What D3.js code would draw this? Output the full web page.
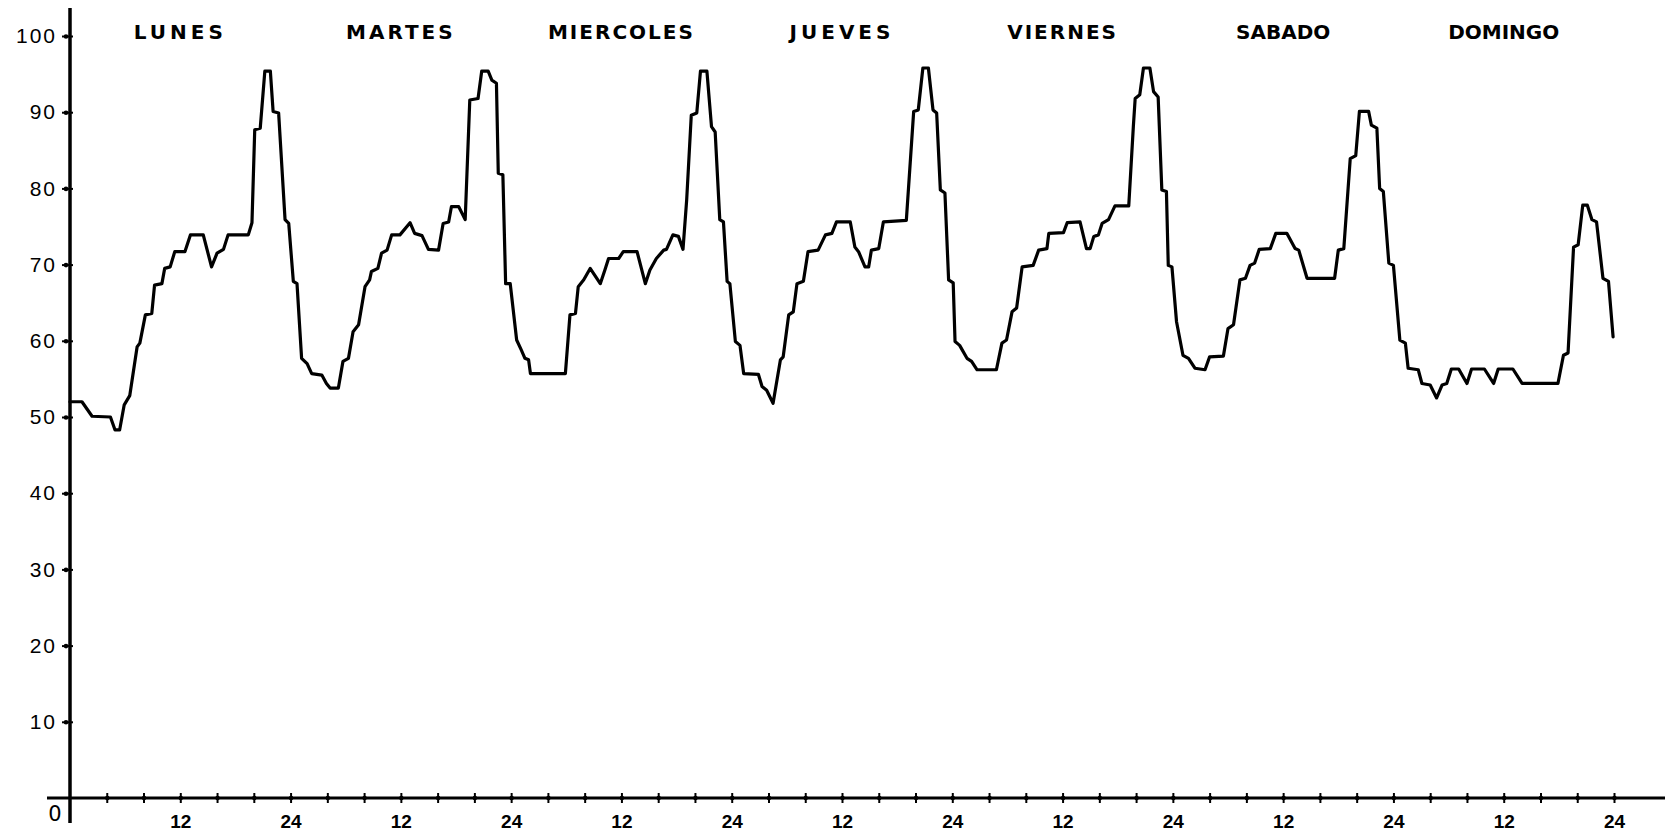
<!DOCTYPE html>
<html>
<head>
<meta charset="utf-8">
<script src="https://cdn.jsdelivr.net/npm/d3@7/dist/d3.min.js"></script>
<style>
  body { margin: 0; background: #fff; }
  text { fill: #000; }
</style>
</head>
<body>
<script>
// dias de la semana (etiquetas de arriba)
var dias = ["LUNES", "MARTES", "MIERCOLES", "JUEVES", "VIERNES", "SABADO", "DOMINGO"];

// hora de la semana (0-168) y valor
var horas = [
  0, 1.3, 2.4, 4.4, 4.9, 5.4, 5.9, 6.5, 7.3, 7.6, 8.2, 8.9, 9.2, 10.0, 10.3, 10.9, 11.4, 12.5, 13.1, 14.5,
  15.4, 16.0, 16.7, 17.2, 19.4, 19.8, 20.1, 20.7, 21.2, 21.8, 22.1, 22.7, 23.4, 23.8,
  24.3, 24.7, 25.2, 25.8, 26.3, 27.4, 27.9, 28.3, 29.2, 29.7, 30.3, 30.8, 31.4, 32.1, 32.6, 32.8, 33.5,
  33.9, 34.5, 35.0, 35.9, 37.0, 37.5, 38.3, 39.0, 40.1, 40.6, 41.2, 41.5, 42.3, 43.0, 43.5, 44.4, 44.8,
  45.5, 45.9, 46.4, 46.6, 47.1, 47.4, 47.9,
  48.6, 49.1, 49.5, 49.9, 50.1, 53.9, 54.4, 55.0, 55.3, 55.9, 56.6, 57.7, 58.2, 58.6, 59.7, 60.2, 61.7,
  62.6, 63.1, 63.8, 64.6, 64.9, 65.6, 66.2, 66.7, 67.1, 67.6, 68.2, 68.6, 69.3, 69.8, 70.2, 70.7, 71.1,
  71.5, 71.8,
  72.4, 72.9, 73.3, 74.9, 75.3, 75.8, 76.5, 77.3, 77.6, 78.2, 78.7, 79.1, 79.8, 80.3, 81.4, 82.2, 82.9,
  83.4, 84.9, 85.4, 85.8, 86.5, 86.9, 87.2, 88.0, 88.5, 91.0, 91.8, 92.3, 92.8, 93.4, 93.9, 94.3, 94.7,
  95.2, 95.6,
  96.1, 96.3, 96.8, 97.6, 98.1, 98.7, 100.8, 101.4, 101.9, 102.5, 103.0, 103.6, 104.8, 105.4, 106.3,
  106.5, 108.1, 108.5, 109.9, 110.6, 111.0, 111.4, 111.9, 112.3, 113.0, 113.7, 115.2, 115.7, 115.9,
  116.4, 116.8, 117.5, 117.9, 118.4, 118.8, 119.3, 119.5, 119.9,
  120.4, 121.1, 121.7, 122.4, 123.5, 124.0, 125.5, 126.0, 126.6, 127.3, 127.9, 128.4, 128.9, 129.4,
  130.6, 131.2, 132.4, 133.3, 133.7, 134.6, 137.6, 138.0, 138.6, 139.3, 139.9, 140.3, 141.3, 141.6,
  142.2, 142.5, 142.9, 143.5,
  144.0, 144.7, 145.3, 145.6, 146.7, 147.1, 148.0, 148.7, 149.3, 149.8, 150.3, 151.1, 152.0, 152.5,
  153.9, 154.9, 155.4, 157.0, 158.0, 161.9, 162.5, 163.0, 163.6, 164.1, 164.6, 165.1, 165.6, 166.1,
  166.8, 167.4, 167.9
];
var valores = [
  52.0, 52.0, 50.1, 50.0, 48.3, 48.3, 51.6, 52.8, 59.2, 59.7, 63.4, 63.6, 67.3, 67.5, 69.5, 69.7, 71.7, 71.7, 73.9, 73.9,
  69.7, 71.5, 72.0, 73.9, 73.9, 75.5, 87.7, 87.9, 95.4, 95.4, 90.1, 89.9, 75.9, 75.4,
  67.8, 67.5, 57.7, 57.0, 55.7, 55.5, 54.4, 53.8, 53.8, 57.3, 57.7, 61.2, 62.1, 67.1, 68.0, 69.1, 69.5,
  71.5, 71.9, 73.9, 73.9, 75.5, 74.1, 73.8, 72.0, 71.9, 75.4, 75.6, 77.6, 77.6, 75.9, 91.6, 91.8, 95.4,
  95.4, 94.2, 93.8, 82.0, 81.8, 67.5, 67.5,
  60.1, 58.8, 57.7, 57.5, 55.7, 55.7, 63.4, 63.6, 67.1, 68.0, 69.5, 67.5, 69.3, 70.8, 70.8, 71.7, 71.7,
  67.5, 69.3, 70.8, 71.9, 72.0, 73.9, 73.7, 72.0, 78.5, 89.6, 89.9, 95.4, 95.4, 88.1, 87.4, 75.9, 75.6,
  67.8, 67.5,
  59.9, 59.4, 55.7, 55.6, 54.0, 53.5, 51.8, 57.5, 57.9, 63.4, 63.8, 67.5, 67.8, 71.7, 71.9, 73.9, 74.1,
  75.6, 75.6, 72.3, 71.7, 69.7, 69.7, 71.9, 72.1, 75.6, 75.8, 90.1, 90.3, 95.8, 95.8, 90.3, 89.9, 79.8,
  79.4, 68.0,
  67.6, 59.9, 59.4, 57.7, 57.3, 56.2, 56.2, 59.7, 60.1, 63.8, 64.3, 69.7, 69.9, 71.9, 72.1,
  74.1, 74.2, 75.5, 75.6, 72.1, 72.1, 73.7, 73.9, 75.4, 75.9, 77.7, 77.7, 88.1, 91.8,
  92.3, 95.8, 95.8, 92.7, 92.0, 79.8, 79.6, 69.9, 69.7,
  62.5, 58.1, 57.7, 56.4, 56.2, 57.9, 58.0, 61.6, 62.1, 68.0, 68.2, 69.9, 70.2, 72.0,
  72.1, 74.1, 74.1, 72.1, 71.9, 68.2, 68.2, 71.9, 72.1, 83.9, 84.3, 90.1, 90.1, 88.3,
  87.9, 80.0, 79.6, 70.2,
  69.9, 60.1, 59.7, 56.4, 56.2, 54.4, 54.2, 52.5, 54.2, 54.4, 56.3, 56.3, 54.4, 56.3,
  56.3, 54.4, 56.3, 56.3, 54.4, 54.4, 58.1, 58.4, 72.3, 72.6, 77.8, 77.8, 75.9, 75.6,
  68.2, 67.8, 60.5
];

var yTicks = [10, 20, 30, 40, 50, 60, 70, 80, 90, 100];
var xTicks = d3.range(4, 169, 4);   // una marca cada 4 horas

var width = 1674, height = 835;
var svg = d3.select("body").append("svg")
    .attr("width", width).attr("height", height)
    .style("font-family", "'DejaVu Sans', sans-serif");

var x = d3.scaleLinear().domain([0, 168]).range([70, 1614]);
var y = d3.scaleLinear().domain([0, 100]).range([798, 36]);

// eje Y
var gy = svg.append("g")
    .attr("transform", "translate(" + x(0) + ",0)")
    .call(d3.axisLeft(y).tickValues(yTicks).tickSizeInner(8).tickSizeOuter(0).tickPadding(5));
gy.select(".domain").remove();
gy.selectAll(".tick line").attr("x1", -8).attr("x2", 3).attr("stroke", "#000").attr("stroke-width", 2);
gy.selectAll(".tick").append("circle").attr("cx", -4).attr("r", 2.3).attr("fill", "#000");
gy.selectAll(".tick text")
    .attr("font-size", 21).attr("letter-spacing", 2).attr("fill", "#000");

// eje X
var gx = svg.append("g")
    .attr("transform", "translate(0," + y(0) + ")")
    .call(d3.axisBottom(x).tickValues(xTicks).tickSizeInner(5).tickSizeOuter(0).tickPadding(12)
        .tickFormat(function(h) { return h % 24 === 0 ? "24" : (h % 12 === 0 ? "12" : ""); }));
gx.select(".domain").remove();
gx.selectAll(".tick line").attr("y1", -5).attr("y2", 5).attr("stroke", "#000").attr("stroke-width", 2);
gx.selectAll(".tick").append("circle").attr("r", 2.3).attr("fill", "#000");
gx.selectAll(".tick text").attr("font-size", 19).attr("font-weight", "bold").attr("fill", "#000");

// lineas de los ejes, un poco mas largas que la escala
svg.append("line")
    .attr("x1", x(0)).attr("x2", x(0)).attr("y1", 8).attr("y2", 823)
    .attr("stroke", "#000").attr("stroke-width", 3.5);
svg.append("line")
    .attr("x1", 47).attr("x2", 1665).attr("y1", y(0)).attr("y2", y(0))
    .attr("stroke", "#000").attr("stroke-width", 3);

svg.append("text")
    .attr("x", 55).attr("y", y(0) + 23)
    .attr("text-anchor", "middle").attr("font-size", 21)
    .text("0");

// nombres de los dias
var espacio = [4, 3, 2, 4, 2, 0, 0];
svg.selectAll(".dia").data(dias).enter().append("text")
    .attr("class", "dia")
    .attr("x", function(d, i) { return x(24 * i + 12); })
    .attr("y", 39)
    .attr("text-anchor", "middle")
    .attr("font-size", 20)
    .attr("font-weight", "bold")
    .attr("letter-spacing", function(d, i) { return espacio[i]; })
    .text(function(d) { return d; });

// la curva
var puntos = horas.map(function(h, i) { return [h, valores[i]]; });
var linea = d3.line()
    .x(function(d) { return x(d[0]); })
    .y(function(d) { return y(d[1]); });

svg.append("path")
    .datum(puntos)
    .attr("d", linea)
    .attr("fill", "none")
    .attr("stroke", "#000")
    .attr("stroke-width", 3.2)
    .attr("stroke-linejoin", "round")
    .attr("stroke-linecap", "round");
</script>
</body>
</html>
